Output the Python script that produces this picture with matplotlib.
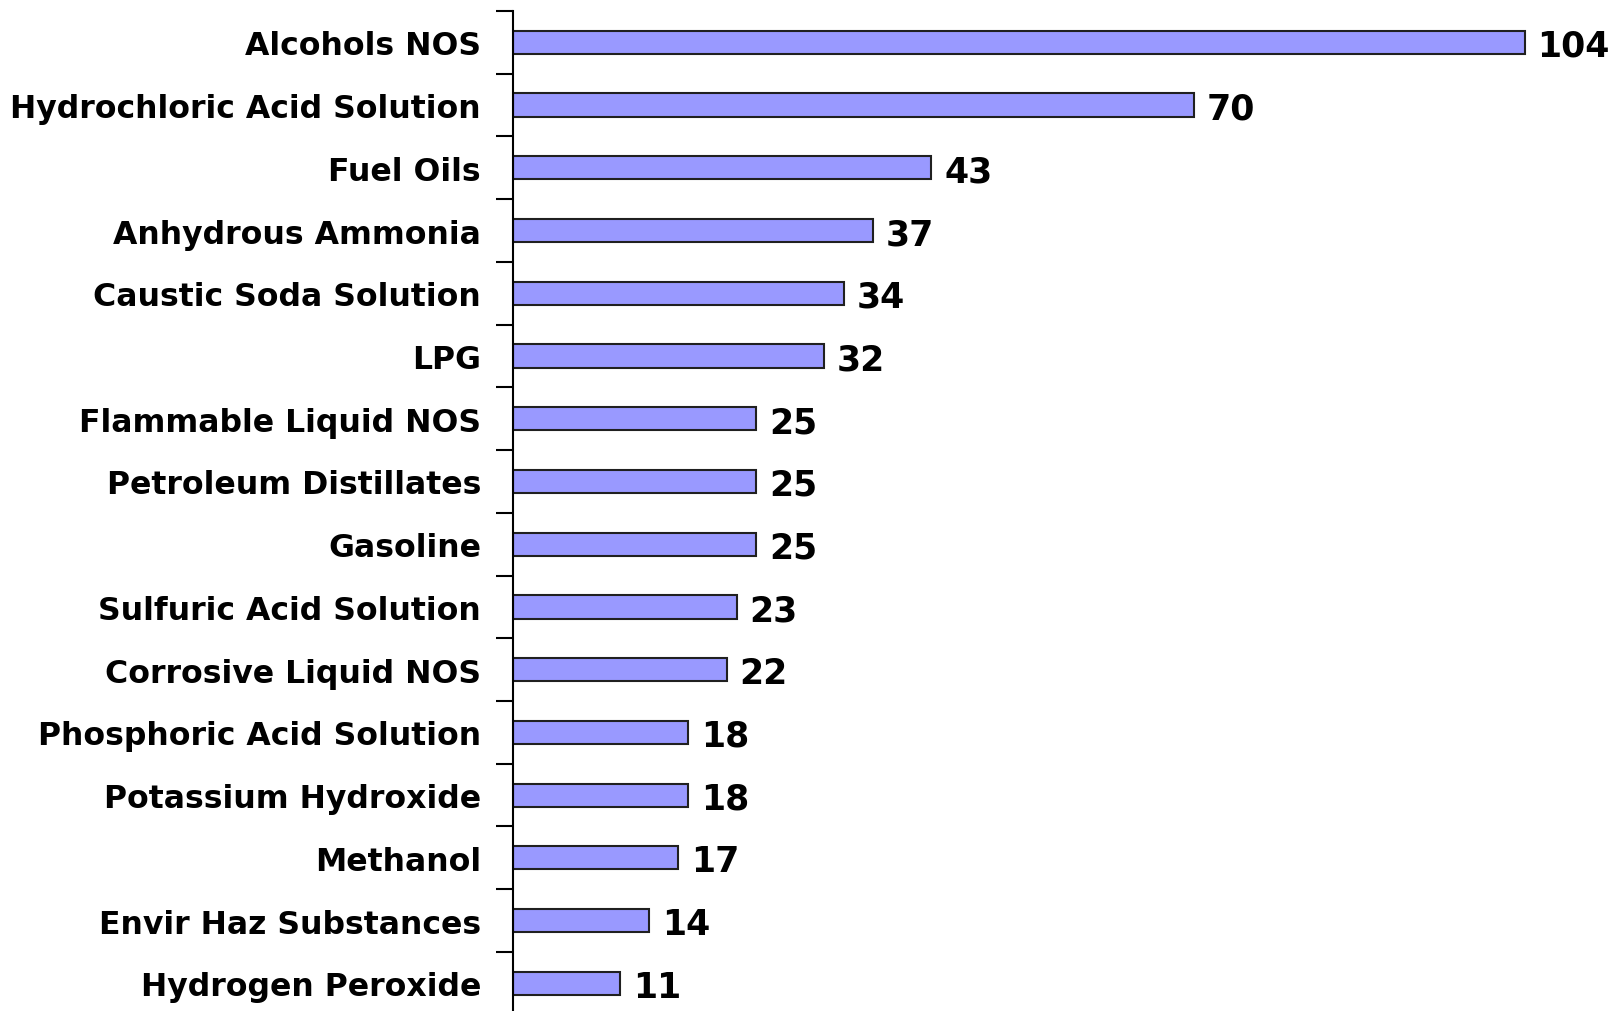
import matplotlib.pyplot as plt

categories = ['Alcohols NOS', 'Hydrochloric Acid Solution', 'Fuel Oils',
              'Anhydrous Ammonia', 'Caustic Soda Solution', 'LPG',
              'Flammable Liquid NOS', 'Petroleum Distillates', 'Gasoline',
              'Sulfuric Acid Solution', 'Corrosive Liquid NOS',
              'Phosphoric Acid Solution', 'Potassium Hydroxide', 'Methanol',
              'Envir Haz Substances', 'Hydrogen Peroxide']
counts = [104, 70, 43, 37, 34, 32, 25, 25, 25, 23, 22, 18, 18, 17, 14, 11]

plt.rcParams['font.family'] = ['DejaVu Sans']

W, H = 1613, 1012
fig = plt.figure(figsize=(W / 100, H / 100), dpi=100)
# axes placed in pixels: left at x=513, top at y=12, rows 62.73 px apart
left, top = 513, 12
height = 16 * 62.73
ax = fig.add_axes([left / W, 1 - (top + height) / H, (W - left) / W, height / H])

n = len(categories)
ypos = list(range(n))
ax.barh(ypos, counts, height=0.37, color='#9999FF', edgecolor='#202020', linewidth=1.5)
ax.set_ylim(n - 0.5, -0.5)
ax.set_xlim(0, (W - left) / 9.73)

for y, v in zip(ypos, counts):
    ax.text(v + 1.3, y, str(v), va='center_baseline', ha='left', fontsize=25, fontweight='bold')

ax.set_yticks(ypos)
ax.set_yticklabels(categories, fontsize=22.7, fontweight='bold')
ax.tick_params(axis='y', which='major', length=0, pad=23)
ax.set_yticks([i - 0.5 for i in range(n + 1)], minor=True)
ax.tick_params(axis='y', which='minor', length=12, width=1.5, direction='out')
ax.set_xticks([])
for s in ['top', 'right', 'bottom']:
    ax.spines[s].set_visible(False)
ax.spines['left'].set_linewidth(1.5)

fig.savefig('out.png', dpi=100)
